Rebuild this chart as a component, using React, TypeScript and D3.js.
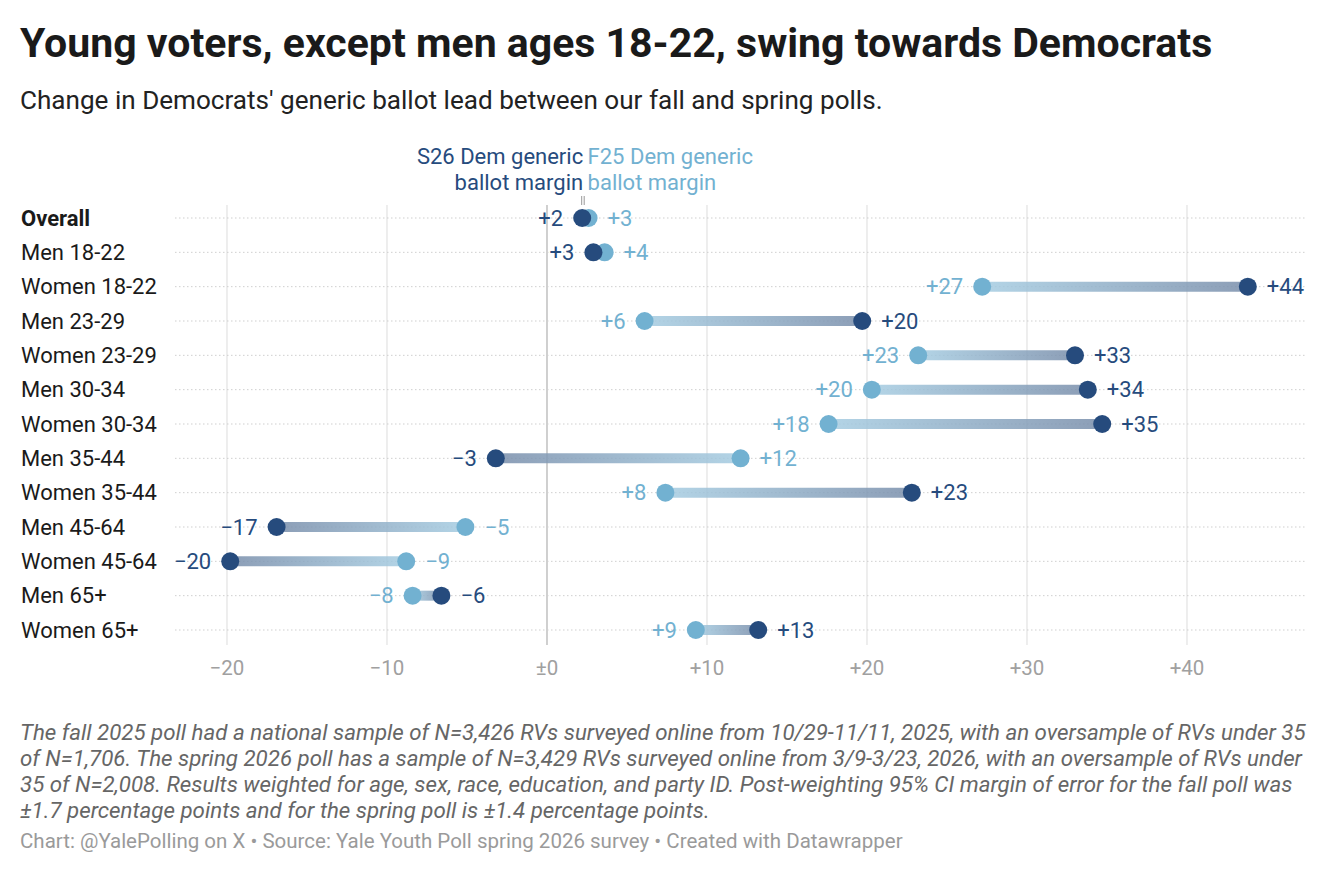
import React from 'react';
import * as d3 from 'd3';

// rows of the chart, top to bottom
const groups = [
  'Overall', 'Men 18-22', 'Women 18-22', 'Men 23-29', 'Women 23-29', 'Men 30-34',
  'Women 30-34', 'Men 35-44', 'Women 35-44', 'Men 45-64', 'Women 45-64', 'Men 65+', 'Women 65+',
];
// fall 2025 margin (light dots)
const fall25 = [2.6, 3.6, 27.2, 6.1, 23.2, 20.3, 17.6, 12.1, 7.4, -5.1, -8.8, -8.4, 9.3];
// spring 2026 margin (dark dots)
const spring26 = [2.2, 2.9, 43.8, 19.7, 33.0, 33.8, 34.7, -3.2, 22.8, -16.9, -19.8, -6.6, 13.2];
// rounded labels shown next to the dots
const fallLabels = [3, 4, 27, 6, 23, 20, 18, 12, 8, -5, -9, -8, 9];
const springLabels = [2, 3, 44, 20, 33, 34, 35, -3, 23, -17, -20, -6, 13];
const xTicks = [-20, -10, 0, 10, 20, 30, 40];

const DARK = '#264b7d';
const LIGHT = '#72b1d1';
const FONT = 'Roboto, sans-serif';

const fmt = (v: number) => (v === 0 ? '±0' : v > 0 ? `+${v}` : `\u2212${Math.abs(v)}`);

const footnote = [
  'The fall 2025 poll had a national sample of N=3,426 RVs surveyed online from 10/29-11/11, 2025, with an oversample of RVs under 35',
  'of N=1,706. The spring 2026 poll has a sample of N=3,429 RVs surveyed online from 3/9-3/23, 2026, with an oversample of RVs under',
  '35 of N=2,008. Results weighted for age, sex, race, education, and party ID. Post-weighting 95% CI margin of error for the fall poll was',
  '±1.7 percentage points and for the spring poll is ±1.4 percentage points.',
];

const App: React.FC = () => {
  const width = 1344;
  const height = 873;

  const x = d3.scaleLinear().domain([-20, 40]).range([227, 1187]);
  const y = d3.scalePoint<string>().domain(groups).range([218, 630]);
  const left = 175;
  const right = 1305;

  return (
    <svg width={width} height={height} style={{ position: 'absolute', left: 0, top: 0, background: '#fff' }}
      fontFamily={FONT}>
      <defs>
        {groups.map((g, i) => (
          <linearGradient key={g} id={`grad${i}`} gradientUnits="userSpaceOnUse"
            x1={x(fall25[i])} x2={x(spring26[i])} y1={0} y2={0}>
            <stop offset="0%" stopColor="#a6cde2" />
            <stop offset="100%" stopColor="#788daa" />
          </linearGradient>
        ))}
      </defs>

      {/* title */}
      <text x={20} y={57} fontSize={41} fontWeight={700} fill="#1a1a1a">
        Young voters, except men ages 18-22, swing towards Democrats
      </text>
      <text x={20} y={109} fontSize={26.1} fill="#222">
        Change in Democrats' generic ballot lead between our fall and spring polls.
      </text>

      {/* vertical gridlines */}
      {xTicks.map(t => (
        <line key={t} x1={x(t)} x2={x(t)} y1={205} y2={645}
          stroke={t === 0 ? '#b0b0b0' : '#e2e2e2'} strokeWidth={1.2} />
      ))}

      {/* row guide lines */}
      {groups.map(g => (
        <line key={g} x1={left} x2={right} y1={y(g)} y2={y(g)}
          stroke="#cfcfcf" strokeWidth={1} strokeDasharray="1.5,2.5" />
      ))}

      {/* axis labels */}
      {xTicks.map(t => (
        <text key={t} x={x(t)} y={675} fontSize={20.5} fill="#a0a0a0" textAnchor="middle">{fmt(t)}</text>
      ))}

      {/* row labels */}
      {groups.map((g, i) => (
        <text key={g} x={21} y={(y(g) as number) + 7.5} fontSize={22} fill="#1a1a1a"
          fontWeight={i === 0 ? 700 : 400}>{g}</text>
      ))}

      {/* bars and dots */}
      {groups.map((g, i) => {
        const cy = y(g) as number;
        const fx = x(fall25[i]);
        const sx = x(spring26[i]);
        const fallLeft = fx < sx;
        return (
          <g key={g}>
            <line x1={fx} x2={sx} y1={cy} y2={cy} stroke={`url(#grad${i})`} strokeWidth={10} strokeOpacity={0.85} />
            <circle cx={fx} cy={cy} r={9} fill={LIGHT} />
            <circle cx={sx} cy={cy} r={9} fill={DARK} />
            <text x={fallLeft ? fx - 19 : fx + 19} y={cy + 7.5} fontSize={22} fill={LIGHT}
              textAnchor={fallLeft ? 'end' : 'start'}>{fmt(fallLabels[i])}</text>
            <text x={fallLeft ? sx + 19 : sx - 19} y={cy + 7.5} fontSize={22} fill={DARK}
              textAnchor={fallLeft ? 'start' : 'end'}>{fmt(springLabels[i])}</text>
          </g>
        );
      })}

      {/* annotation */}
      <text x={x(spring26[0]) + 1} y={164} fontSize={22} fill={DARK} textAnchor="end">
        <tspan x={x(spring26[0]) + 1}>S26 Dem generic</tspan>
        <tspan x={x(spring26[0]) + 1} dy={26}>ballot margin</tspan>
      </text>
      <text x={x(fall25[0]) - 1} y={164} fontSize={22} fill={LIGHT} textAnchor="start">
        <tspan x={x(fall25[0]) - 1}>F25 Dem generic</tspan>
        <tspan x={x(fall25[0]) - 1} dy={26}>ballot margin</tspan>
      </text>
      <line x1={x(spring26[0]) - 0.5} x2={x(spring26[0]) - 0.5} y1={196} y2={205} stroke="#999" strokeWidth={1} />
      <line x1={x(spring26[0]) + 2} x2={x(spring26[0]) + 2} y1={196} y2={205} stroke="#999" strokeWidth={1} />

      {/* footnote */}
      {footnote.map((l, i) => (
        <text key={i} x={20} y={740 + i * 26} fontSize={22.3} fontStyle="italic" fill="#666">{l}</text>
      ))}
      <text x={20} y={848} fontSize={20.5} fill="#9a9a9a">
        Chart: @YalePolling on X • Source: Yale Youth Poll spring 2026 survey • Created with Datawrapper
      </text>
    </svg>
  );
};

export default App;
